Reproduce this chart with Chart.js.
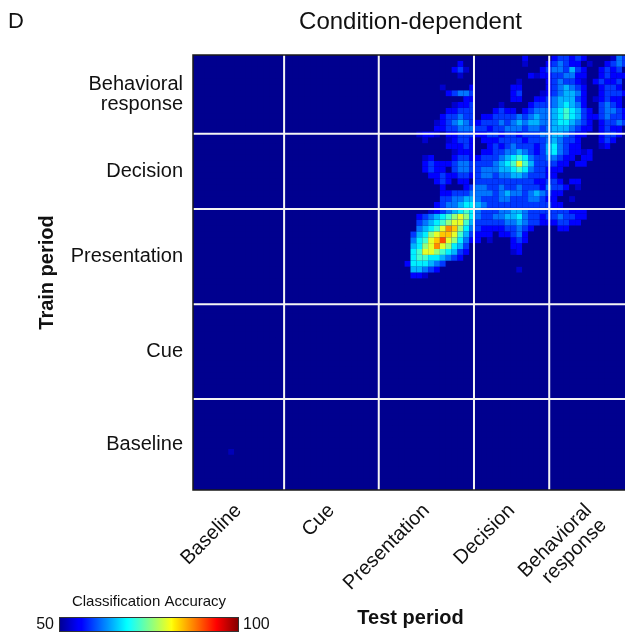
<!DOCTYPE html>
<html>
<head>
<meta charset="utf-8">
<script src="https://cdn.jsdelivr.net/npm/chart.js@4.4.1/dist/chart.umd.min.js"></script>
<style>
  html, body { margin: 0; padding: 0; background: #fff; overflow: hidden; width: 625px; height: 637px; }
  canvas { display: block; }
</style>
</head>
<body>
<canvas id="chart" width="630" height="637"></canvas>
<script>
// Task periods in temporal order (train period = rows, test period = columns)
const periodLabels = [['Baseline'], ['Cue'], ['Presentation'], ['Decision'], ['Behavioral', 'response']];
// Period boundaries on the time-bin axis
const periodEdges = [0, 15.5, 31.6, 47.8, 60.6, 74];
const binCount = 74;

// Colour scale range for classification accuracy (%)
const accuracyRange = [50, 100];

// Accuracy (%) for each level code used in the matrix rows
const levelCodes = '.123456789abc';
const levelAccuracy = [50, 53, 56, 59, 62, 65, 68, 72, 76, 80, 84, 87, 90];

// Above-chance part of the matrix: test bins from 34 rightwards,
// train bins from 73 (top) downwards; every other cell is at chance (50%).
const blockFirstTestBin = 34;
const blockTopTrainBin = 73;
const blockRows = [
  '......................2....233232....143',
  '...........2..........1...234322.1..2343',
  '..........231............23443532..2323.',
  '...........1...........2122334422..23222',
  '.....................1....2343321.23223.',
  '........1....2......22....2345432..2332.',
  '.........23443......23...12345542..23332',
  '............22......22..223455532.12322.',
  '..........1223....1....2333456542..3432.',
  '.........22333...2322.234445676532.34432',
  '........233433.2233334345445676532234332',
  '.......123454323334345455445665432.23343',
  '.......223344433233444344345554322.2322.',
  '....1221.223332233233233344554322..2332.',
  '.....1...12332.22233332333454332...232..',
  '.........22232..2323433323564322...12...',
  '..........1222.2233445432356432212......',
  '.....12...233223334567643344322.22......',
  '.....2322234433334567975333322.22.......',
  '.....2322.3443344455676433222...........',
  '......2232233234434455433322............',
  '.......232.22.333333333322332.22........',
  '........2...234433433433324332.1........',
  '........223334444345443454322...........',
  '........33445543334433344322..1.........',
  '.......2344566543333333333322...........',
  '......123456764333445543333333222.......',
  '....23456789864334455643323343322.......',
  '....3456789975333334454332223322........',
  '....45679ba8643222233432....22..........',
  '...35689aa9753222.22342.................',
  '...4679ac986422.1...232.................',
  '...5689b98653.......22..................',
  '...6799876532.......12..................',
  '...677665432............................',
  '..2666543...............................',
  '...55432.............1..................',
  '...221..................................'
];
// Isolated cells outside the block: [testBin, trainBin, accuracy]
const extraCells = [[6, 6, 52]];

const FONT = "'Liberation Sans', Arial, Helvetica, sans-serif";
const INK = '#111111';

function jetColor(acc) {
  const v = Math.min(1, Math.max(0, (acc - accuracyRange[0]) / (accuracyRange[1] - accuracyRange[0])));
  const ch = t => Math.round(255 * Math.min(1, Math.max(0, t)));
  const r = ch(1.5 - Math.abs(4 * v - 3));
  const g = ch(1.5 - Math.abs(4 * v - 2));
  const b = ch(1.5625 - Math.abs(4 * v - 1));
  return `rgb(${r},${g},${b})`;
}

function accuracyAt(test, train) {
  const extra = extraCells.find(c => c[0] === test && c[1] === train);
  if (extra) return extra[2];
  const row = blockTopTrainBin - train;
  const col = test - blockFirstTestBin;
  if (row < 0 || row >= blockRows.length || col < 0) return levelAccuracy[0];
  const code = blockRows[row].padEnd(binCount, '.').charAt(col);
  const idx = levelCodes.indexOf(code);
  return idx < 0 ? levelAccuracy[0] : levelAccuracy[idx];
}

// One floating bar per matrix cell: x = test bin, y = [train bin, train bin + 1]
const cells = [];
for (let train = 0; train < binCount; train++) {
  for (let test = 0; test < binCount; test++) {
    cells.push({ x: test + 0.5, y: [train, train + 1], acc: accuracyAt(test, train) });
  }
}

const periodCenters = periodEdges.slice(0, -1).map((e, i) => (e + periodEdges[i + 1]) / 2);

// Chance-level fill under the cells so anti-aliased cell edges don't show seams
const chanceBackdrop = {
  id: 'chanceBackdrop',
  beforeDatasetsDraw(chart) {
    const { ctx, chartArea: a } = chart;
    ctx.save();
    ctx.fillStyle = jetColor(accuracyRange[0]);
    ctx.fillRect(a.left, a.top, a.right - a.left, a.bottom - a.top);
    ctx.restore();
  }
};

const periodGrid = {
  id: 'periodGrid',
  afterDatasetsDraw(chart) {
    const { ctx, chartArea: a, scales: { x, y } } = chart;
    ctx.save();
    ctx.strokeStyle = '#f4f4f4';
    ctx.lineWidth = 2;
    periodEdges.slice(1, -1).forEach(e => {
      const px = x.getPixelForValue(e);
      const py = y.getPixelForValue(e);
      ctx.beginPath();
      ctx.moveTo(px, a.top); ctx.lineTo(px, a.bottom);
      ctx.moveTo(a.left, py); ctx.lineTo(a.right, py);
      ctx.stroke();
    });
    ctx.strokeStyle = '#1a1a1a';
    ctx.lineWidth = 1.5;
    ctx.strokeRect(a.left, a.top, a.right - a.left, a.bottom - a.top);
    ctx.restore();
  }
};

const panelExtras = {
  id: 'panelExtras',
  afterDraw(chart) {
    const ctx = chart.ctx;
    ctx.save();
    ctx.fillStyle = INK;
    ctx.textBaseline = 'middle';
    ctx.font = `22px ${FONT}`;
    ctx.textAlign = 'left';
    ctx.fillText('D', 8, 22);

    // colour bar
    const bx = 59, by = 617, bw = 180, bh = 15;
    const grad = ctx.createLinearGradient(bx, 0, bx + bw, 0);
    for (let i = 0; i <= 64; i++) {
      const t = i / 64;
      grad.addColorStop(t, jetColor(accuracyRange[0] + t * (accuracyRange[1] - accuracyRange[0])));
    }
    ctx.fillStyle = grad;
    ctx.fillRect(bx, by, bw, bh);
    ctx.strokeStyle = '#333';
    ctx.lineWidth = 1;
    ctx.strokeRect(bx + 0.5, by + 0.5, bw - 1, bh - 1);

    ctx.fillStyle = INK;
    ctx.font = `15px ${FONT}`;
    ctx.textAlign = 'center';
    ctx.fillText('Classification Accuracy', bx + bw / 2, 602);
    ctx.font = `16px ${FONT}`;
    ctx.textAlign = 'right';
    ctx.fillText(String(accuracyRange[0]), bx - 5, by + bh / 2);
    ctx.textAlign = 'left';
    ctx.fillText(String(accuracyRange[1]), bx + bw + 4, by + bh / 2);
    ctx.restore();
  }
};

new Chart(document.getElementById('chart'), {
  type: 'bar',
  data: {
    datasets: [{
      data: cells,
      backgroundColor: c => (c.raw ? jetColor(c.raw.acc) : 'transparent'),
      borderWidth: 0,
      inflateAmount: 0,
      barPercentage: 1,
      categoryPercentage: 1
    }]
  },
  options: {
    responsive: false,
    animation: false,
    events: [],
    layout: { padding: { left: 0, right: 2, top: 0, bottom: 0 } },
    plugins: {
      legend: { display: false },
      tooltip: { enabled: false },
      title: {
        display: true,
        text: 'Condition-dependent',
        fullSize: false,
        color: INK,
        font: { family: FONT, size: 24, weight: 'normal', lineHeight: 1.2 },
        padding: { top: 7.6, bottom: 18.6 }
      }
    },
    scales: {
      x: {
        type: 'linear',
        min: 0,
        max: binCount,
        offset: false,
        afterFit: s => { s.height = 147; },
        afterBuildTicks: s => { s.ticks = periodCenters.map(v => ({ value: v })); },
        grid: { display: false, drawTicks: false },
        border: { display: false },
        ticks: {
          autoSkip: false,
          minRotation: 45,
          maxRotation: 45,
          padding: 10,
          color: INK,
          font: { family: FONT, size: 20, lineHeight: 1.05 },
          callback: (v, i) => periodLabels[i]
        },
        title: {
          display: true,
          text: 'Test period',
          color: INK,
          font: { family: FONT, size: 20, weight: 'bold', lineHeight: 1.2 },
          padding: { top: 0, bottom: 7 }
        }
      },
      y: {
        type: 'linear',
        position: 'left',
        min: 0,
        max: binCount,
        afterFit: s => { s.width = 193; },
        afterBuildTicks: s => { s.ticks = periodCenters.map(v => ({ value: v })); },
        grid: { display: false, drawTicks: false },
        border: { display: false },
        ticks: {
          padding: 10,
          color: INK,
          font: { family: FONT, size: 20, lineHeight: 1.0 },
          callback: (v, i) => periodLabels[i]
        },
        title: {
          display: true,
          text: 'Train period',
          color: INK,
          font: { family: FONT, size: 20, weight: 'bold', lineHeight: 1.2 },
          padding: { top: 35, bottom: 0 }
        }
      }
    }
  },
  plugins: [chanceBackdrop, periodGrid, panelExtras]
});
</script>
</body>
</html>
